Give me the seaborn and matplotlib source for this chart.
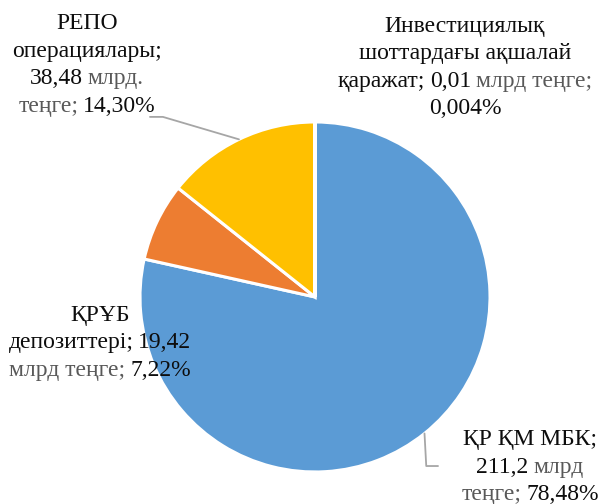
import matplotlib
matplotlib.use('Agg')
import matplotlib.pyplot as plt
from matplotlib.transforms import ScaledTranslation
import numpy as np
import seaborn as sns

sns.set_style('white')
FONT = 'Liberation Serif'
plt.rcParams['font.family'] = FONT

# --- data ---
categories = ['ҚР ҚМ МБК', 'ҚРҰБ депозиттері', 'РЕПО операциялары',
              'Инвестициялық шоттардағы ақшалай қаражат']
amounts = [211.2, 19.42, 38.48, 0.01]          # млрд теңге
amount_text = ['211,2', '19,42', '38,48', '0,01']
share_text = ['78,48%', '7,22%', '14,30%', '0,004%']
colors = ['#5B9BD5', '#ED7D31', '#FFC000', '#A5A5A5']

K, G = '#0d0d0d', '#595959'
# each label split into lines of (text, colour) pieces, as wrapped in the original
label_lines = [
    [[('ҚР ҚМ МБК;', K)],
     [(amount_text[0], K), ('млрд', G)],
     [('теңге;', G), (share_text[0], K)]],
    [[('ҚРҰБ', K)],
     [('депозиттері;', K), (amount_text[1], K)],
     [('млрд теңге;', G), (share_text[1], K)]],
    [[('РЕПО', K)],
     [('операциялары;', K)],
     [(amount_text[2], K), ('млрд.', G)],
     [('теңге;', G), (share_text[2], K)]],
    [[('Инвестициялық', K)],
     [('шоттардағы ақшалай', K)],
     [('қаражат;', K), (amount_text[3], K), ('млрд теңге;', G)],
     [(share_text[3], K)]],
]
# label anchor (centre x, first baseline y) in pie units
anchors = [(1.229, -0.846), (-1.229, -0.137), (-1.303, 1.531), (0.857, 1.515)]

FS = 17
LH = 27.5  # px between lines

fig = plt.figure(figsize=(6.03, 5.04), dpi=100)
ax = fig.add_axes([0, 0, 1, 1])
wedges, _ = ax.pie(amounts, colors=colors, startangle=90, counterclock=False,
                   radius=1, wedgeprops=dict(edgecolor='white', linewidth=2.2))
ax.set_aspect('auto')
ax.set_xlim(-1.8, 1.6457)
ax.set_ylim(-1.183, 1.697)
ax.axis('off')

# leader lines for РЕПО and МБК labels
def edge_point(w):
    th = np.deg2rad((w.theta1 + w.theta2) / 2)
    return np.cos(th), np.sin(th)

lc = '#A6A6A6'
sx, sy = edge_point(wedges[2])
ax.plot([sx, -0.869, -0.943], [sy, 1.029, 1.029], color=lc, lw=1.3)
sx, sy = edge_point(wedges[0])
ax.plot([sx, sx + 0.01, 0.703], [sy, -0.966, -0.966], color=lc, lw=1.3)

# multi-colour labels
fig.canvas.draw()
r = fig.canvas.get_renderer()
dpi = fig.dpi

def width(s):
    t = ax.text(0, 0, s, fontsize=FS, family=FONT)
    w = t.get_window_extent(r).width
    t.remove()
    return w

space = (width('a a') - width('aa')) * 0.8
for lines, (x, y) in zip(label_lines, anchors):
    for i, line in enumerate(lines):
        ws = [width(s) for s, _ in line]
        off = -(sum(ws) + space * (len(ws) - 1)) / 2
        for (s, c), w in zip(line, ws):
            tr = ax.transData + ScaledTranslation(off / dpi, -i * LH / dpi,
                                                  fig.dpi_scale_trans)
            ax.text(x, y, s, color=c, fontsize=FS, family=FONT, ha='left',
                    va='baseline', transform=tr)
            off += w + space

fig.savefig('out.png', dpi=100)
